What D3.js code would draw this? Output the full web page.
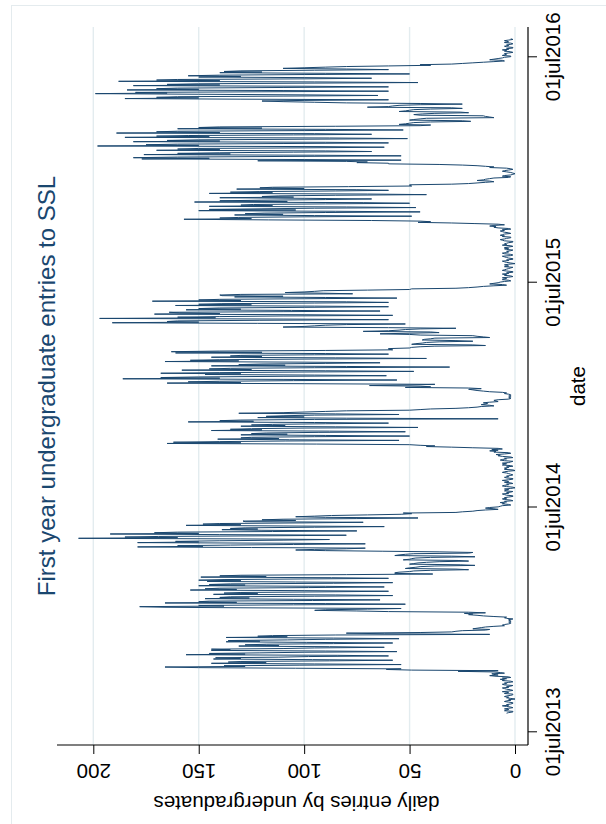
<!DOCTYPE html>
<html>
<head>
<meta charset="utf-8">
<script src="https://cdn.jsdelivr.net/npm/d3@7"></script>
<style>
  body { margin: 0; background: #fff; }
  svg { display: block; }
  text { font-family: "Liberation Sans", Arial, Helvetica, sans-serif; }
</style>
</head>
<body>
<svg id="chart" width="606" height="824"></svg>
<script>
// Daily entries by first-year undergraduates, one value per day,
// consecutive from firstDay. Rows are Monday..Sunday weeks.
const firstDay = "2013-08-01";

const summer2013 = [
  4,3,1,1,
  5,4,3,5,3,1,2,
  4,6,3,4,2,1,1,
  3,5,4,2,3,0,2,
  4,3,5,4,2,1,1,
  5,4,3,6,3,1,2,
  4,5,6,3,4,2,1,
  5,6,4,5,3,1,2,
  6,5,7,4,6,2,3,
  9,12,8,10,11,5,7
];
const michaelmas2013 = [
  10,27,8,49,61,54,104,
  150,166,128,138,102,54,95,
  144,118,136,130,88,58,96,
  143,130,142,112,98,60,84,
  156,128,145,121,100,56,90,
  144,135,144,110,95,62,88,
  131,112,128,118,86,58,99,
  137,121,136,108,90,55,86,
  137,108,122,115,85,12,62
];
const christmas2013 = [
  80,45,30,28,25,14,12,
  20,18,16,14,10,5,6,
  5,3,2,2,3,2,2,
  3,3,1,4,5,4,10,
  15,18,22,20,24,14,22
];
const hilary2014 = [
  60,75,95,90,70,54,120,
  166,178,138,150,105,52,90,
  166,132,150,145,96,64,105,
  147,126,140,135,95,58,85,
  143,122,138,130,92,60,100,
  154,132,147,140,98,62,90,
  150,128,145,135,86,58,104,
  146,130,150,138,100,60,87,
  149,118,140,130,80,39,57
];
const easter2014 = [
  57,55,50,48,40,22,28,
  52,50,47,45,38,19,26,
  50,48,46,42,36,22,27,
  53,50,49,47,40,19,30,
  57,55,52,48,22,20,36
];
const trinity2014 = [
  63,90,104,95,80,71,125,
  179,148,160,135,105,71,110,
  179,150,161,140,110,88,130,
  207,160,185,169,120,80,140,
  192,150,171,160,115,75,120,
  139,122,135,128,95,62,110,
  156,130,148,140,100,72,128,
  129,104,120,110,75,46,90,
  104,95,87,70,54,49,53
];
const summer2014 = [
  28,25,20,18,14,8,10,
  14,12,8,7,6,2,3,
  6,5,7,4,5,1,2,
  5,6,4,5,3,1,1,
  4,5,6,3,4,2,1,
  5,4,3,5,2,0,1,
  4,6,5,3,4,1,2,
  5,3,4,6,3,1,1,
  4,5,3,4,2,1,2,
  3,4,6,5,3,0,1,
  5,4,5,3,4,1,2,
  6,5,4,6,3,2,1,
  5,7,6,4,5,1,2,
  6,8,7,9,5,2,3,
  10,9,12,8,11,6,8
];
const michaelmas2014 = [
  20,30,42,38,45,50,94,
  165,130,162,140,109,55,107,
  141,112,130,125,95,50,90,
  130,108,125,118,93,52,88,
  144,120,135,125,100,46,85,
  130,109,125,115,90,60,95,
  155,124,140,130,95,8,80,
  122,100,118,110,95,55,85,
  131,110,100,90,80,50,45
];
const christmas2014 = [
  40,28,22,18,16,10,12,
  16,14,13,15,12,8,9,
  10,8,3,2,3,2,2,
  3,2,2,3,5,4,6,
  12,15,18,20,22,16,22
];
const hilary2015 = [
  52,40,45,69,50,38,100,
  165,130,155,140,105,56,110,
  186,140,168,150,110,61,95,
  147,130,168,140,100,48,90,
  158,125,145,135,95,31,80,
  144,109,131,120,90,64,100,
  166,131,154,140,100,42,85,
  144,120,135,130,95,60,90,
  161,120,163,140,90,58,60
];
const easter2015 = [
  60,50,49,45,38,14,20,
  49,47,44,42,36,20,28,
  44,43,40,38,12,15,18,
  20,45,50,64,50,36,40,
  72,60,55,52,45,28,60
];
const trinity2015 = [
  110,100,95,90,80,52,122,
  191,150,165,160,121,60,110,
  197,142,160,140,110,58,100,
  171,140,159,164,110,64,106,
  156,130,150,140,100,60,95,
  161,125,150,139,95,60,80,
  172,130,150,140,100,56,90,
  133,110,139,140,130,77,91,
  109,100,95,91,70,50,49
];
const summer2015 = [
  28,22,18,15,10,4,6,
  12,10,8,7,5,2,3,
  6,5,4,6,3,1,2,
  5,4,6,3,4,1,1,
  4,6,5,4,3,2,1,
  5,3,4,5,3,0,2,
  4,5,6,3,4,1,1,
  3,4,5,6,2,1,2,
  5,6,4,3,4,2,1,
  4,5,3,5,3,1,2,
  6,4,5,4,3,1,1,
  5,6,7,5,4,2,2,
  6,5,7,6,5,2,3,
  5,6,7,5,6,2,3,
  8,10,9,12,10,5,8
];
const michaelmas2015 = [
  19,30,46,40,45,68,117,
  157,125,140,131,100,49,95,
  133,110,128,119,90,45,85,
  150,104,145,120,95,47,80,
  145,115,130,124,90,50,72,
  152,108,140,120,90,68,100,
  140,105,120,112,85,42,70,
  145,115,135,121,85,60,75,
  132,100,121,115,79,49,50
];
const christmas2015 = [
  50,30,22,18,14,10,12,
  18,15,14,12,10,3,2,
  6,5,2,1,0,1,2,
  4,6,5,3,1,2,4,
  12,10,14,18,25,36,60
];
const hilary2016 = [
  60,75,70,80,122,54,100,
  177,145,181,160,110,54,95,
  176,135,160,140,105,68,90,
  170,140,160,150,100,62,92,
  198,150,175,160,110,60,90,
  181,140,165,150,100,51,88,
  185,145,170,155,105,68,95,
  189,140,170,160,100,53,90,
  160,120,150,140,85,45,40
];
const easter2016 = [
  55,52,50,48,40,21,25,
  50,48,45,42,10,12,14,
  15,45,48,44,38,22,26,
  55,52,50,48,40,25,30,
  70,60,58,55,45,25,45
];
const trinity2016 = [
  80,95,110,120,100,60,130,
  185,150,170,160,110,65,100,
  150,199,165,180,120,60,110,
  184,150,170,160,110,60,100,
  181,140,165,150,100,46,95,
  188,140,170,160,100,68,100,
  150,130,155,140,100,50,90,
  140,120,138,130,95,60,80,
  110,100,90,80,60,40,45
];
const summer2016 = [
  30,25,20,15,10,5,6,
  12,10,8,6,5,2,2,
  6,5,4,5,3,1,2,
  5,4,6,3,4,1,1,
  4,5,3,4,2,1,2,
  5,3,4,5,3,1,2
];

const dateTicks = ["2013-07-01", "2014-07-01", "2015-07-01", "2016-07-01"];
const valueTicks = [0, 50, 100, 150, 200];
const dateDomain = ["2013-07-01", "2016-07-01"];
const valueDomain = [0, 200];

const titleText = "First year undergraduate entries to SSL";
const dateTitle = "date";
const valueTitle = "daily entries by undergraduates";

// ---------------------------------------------------------------------------
const parse = d3.utcParse("%Y-%m-%d");
const entries = [].concat(
  summer2013, michaelmas2013, christmas2013, hilary2014, easter2014, trinity2014,
  summer2014, michaelmas2014, christmas2014, hilary2015, easter2015, trinity2015,
  summer2015, michaelmas2015, christmas2015, hilary2016, easter2016, trinity2016,
  summer2016
);
const start = parse(firstDay);
const series = entries.map((v, i) => ({ date: d3.utcDay.offset(start, i), value: v }));

const FONT = '"Liberation Sans", Arial, Helvetica, sans-serif';
const NAVY = "#1a476f";

// Landscape layout (824 wide x 606 tall), turned a quarter-turn counter-clockwise
const LW = 824;
const plot = { left: 79, right: 797, top: 57, bottom: 528 };

const svg = d3.select("#chart");

// graph region outline
svg.append("rect")
  .attr("x", 11.5).attr("y", 5.5)
  .attr("width", 640).attr("height", 860)
  .attr("fill", "none")
  .attr("stroke", "#e4ebee")
  .attr("stroke-width", 1);

const g = svg.append("g").attr("transform", `translate(0,${LW}) rotate(-90)`);

const x = d3.scaleUtc().domain(dateDomain.map(parse)).range([91.7, 766.7]);
const y = d3.scaleLinear().domain(valueDomain).range([515, 93.3]);

// horizontal grid lines at the value ticks
g.append("g").selectAll("line")
  .data(valueTicks)
  .join("line")
  .attr("x1", plot.left).attr("x2", plot.right)
  .attr("y1", d => y(d)).attr("y2", d => y(d))
  .attr("stroke", "#e3ecef")
  .attr("stroke-width", 1.4);

// the series
const line = d3.line()
  .x(d => x(d.date))
  .y(d => y(d.value));

g.append("path")
  .datum(series)
  .attr("d", line)
  .attr("fill", "none")
  .attr("stroke", NAVY)
  .attr("stroke-width", 1)
  .attr("stroke-linejoin", "round");

// value axis (left)
const yAxis = g.append("g")
  .attr("transform", `translate(${plot.left},0)`)
  .call(d3.axisLeft(y).tickValues(valueTicks).tickSize(9).tickFormat(d3.format("d")));
yAxis.select(".domain").remove();
yAxis.selectAll(".tick line").attr("stroke", "#000").attr("stroke-width", 1);
yAxis.selectAll(".tick text")
  .attr("x", null).attr("dy", "0.35em")
  .attr("transform", "translate(-26,0) rotate(-90)")
  .attr("text-anchor", "middle")
  .attr("fill", "#000")
  .style("font-family", FONT)
  .style("font-size", "20.5px");
g.append("line")
  .attr("x1", plot.left).attr("x2", plot.left)
  .attr("y1", plot.top).attr("y2", plot.bottom)
  .attr("stroke", "#000").attr("stroke-width", 1.2);

// date axis (bottom)
const fmt = d3.utcFormat("%d%b%Y");
const xAxis = g.append("g")
  .attr("transform", `translate(0,${plot.bottom})`)
  .call(d3.axisBottom(x).tickValues(dateTicks.map(parse)).tickSize(9)
    .tickFormat(d => fmt(d).toLowerCase()));
xAxis.select(".domain").remove();
xAxis.selectAll(".tick line").attr("stroke", "#000").attr("stroke-width", 1);
xAxis.selectAll(".tick text")
  .attr("y", 24.7).attr("dy", "0.35em")
  .attr("fill", "#000")
  .style("font-family", FONT)
  .style("font-size", "20.5px");
g.append("line")
  .attr("x1", plot.left).attr("x2", plot.right)
  .attr("y1", plot.bottom).attr("y2", plot.bottom)
  .attr("stroke", "#000").attr("stroke-width", 1.2);

// axis titles
g.append("text")
  .attr("transform", `translate(21,${(plot.top + plot.bottom) / 2 + 4}) rotate(-90)`)
  .attr("text-anchor", "middle")
  .attr("dy", "0.35em")
  .style("font-family", FONT)
  .style("font-size", "20.5px")
  .attr("fill", "#000")
  .text(valueTitle);

g.append("text")
  .attr("x", (plot.left + plot.right) / 2)
  .attr("y", 578)
  .attr("dy", "0.35em")
  .attr("text-anchor", "middle")
  .style("font-family", FONT)
  .style("font-size", "20.5px")
  .attr("fill", "#000")
  .text(dateTitle);

// title
g.append("text")
  .attr("x", (plot.left + plot.right) / 2)
  .attr("y", 55)
  .attr("text-anchor", "middle")
  .style("font-family", FONT)
  .style("font-size", "24px")
  .attr("fill", NAVY)
  .text(titleText);
</script>
</body>
</html>
